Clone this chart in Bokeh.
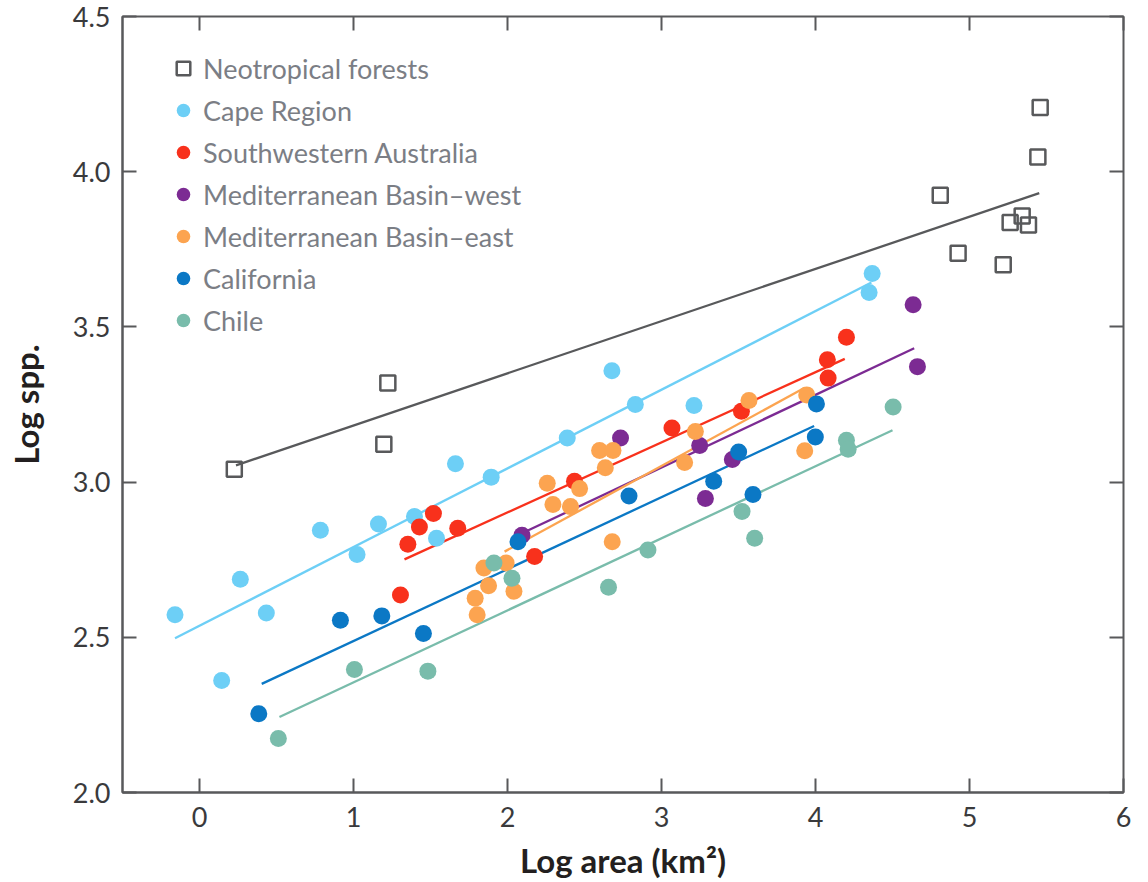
from bokeh.plotting import figure
from bokeh.models import (Legend, LegendItem, LinearAxis, Range1d, FixedTicker,
                          PrintfTickFormatter)
from bokeh.embed import file_html
from bokeh.resources import INLINE

# ---------------- data ----------------
neo_x = [0.226, 1.223, 1.197, 4.81, 4.926, 5.219, 5.264, 5.342, 5.383, 5.444, 5.459]
neo_y = [3.041, 3.319, 3.122, 3.924, 3.737, 3.700, 3.836, 3.857, 3.828, 4.047, 4.207]
neo_fit_x = [0.237, 5.453]
neo_fit_y = [3.054, 3.931]

cape_x = [-0.159, 0.144, 0.265, 0.434, 0.785, 1.023, 1.162, 1.396, 1.539, 1.662,
          1.894, 2.388, 2.678, 2.830, 3.211, 4.348, 4.368]
cape_y = [2.573, 2.361, 2.687, 2.578, 2.845, 2.767, 2.865, 2.889, 2.819, 3.059,
          3.016, 3.142, 3.359, 3.250, 3.247, 3.611, 3.672]
cape_fit_x = [-0.159, 4.363]
cape_fit_y = [2.497, 3.643]

swa_x = [1.305, 1.353, 1.428, 1.519, 1.677, 2.176, 2.435, 3.068, 3.519, 4.077, 4.082, 4.201]
swa_y = [2.636, 2.800, 2.855, 2.899, 2.851, 2.760, 3.003, 3.174, 3.228, 3.394, 3.335, 3.467]
swa_fit_x = [1.331, 4.190]
swa_fit_y = [2.751, 3.397]

mbw_x = [2.094, 2.734, 3.248, 3.285, 3.460, 4.634, 4.662]
mbw_y = [2.829, 3.142, 3.118, 2.947, 3.073, 3.571, 3.372]
mbw_fit_x = [2.094, 4.641]
mbw_fit_y = [2.835, 3.431]

mbe_x = [1.790, 1.803, 1.847, 1.877, 1.991, 2.042, 2.258, 2.295, 2.409, 2.468,
         2.598, 2.635, 2.685, 2.680, 3.150, 3.220, 3.568, 3.930, 3.943]
mbe_y = [2.626, 2.573, 2.723, 2.666, 2.739, 2.648, 2.996, 2.928, 2.921, 2.979,
         3.102, 3.046, 3.102, 2.808, 3.063, 3.163, 3.263, 3.101, 3.281]
mbe_fit_x = [1.981, 3.930]
mbe_fit_y = [2.776, 3.304]

cal_x = [0.385, 0.915, 1.184, 1.454, 2.068, 2.789, 3.339, 3.501, 3.594, 3.999, 4.006]
cal_y = [2.254, 2.555, 2.569, 2.512, 2.808, 2.955, 3.003, 3.097, 2.960, 3.145, 3.252]
cal_fit_x = [0.404, 3.991]
cal_fit_y = [2.350, 3.181]

chi_x = [0.512, 1.006, 1.483, 1.912, 2.029, 2.656, 2.912, 3.523, 3.605, 4.201, 4.212, 4.504]
chi_y = [2.174, 2.396, 2.391, 2.739, 2.690, 2.661, 2.781, 2.905, 2.819, 3.135, 3.106, 3.242]
chi_fit_x = [0.519, 4.500]
chi_fit_y = [2.243, 3.167]

x_ticks = [0, 1, 2, 3, 4, 5, 6]
y_ticks = [2.0, 2.5, 3.0, 3.5, 4.0, 4.5]

labels = ["Neotropical forests", "Cape Region", "Southwestern Australia",
          "Mediterranean Basin\u2013west", "Mediterranean Basin\u2013east",
          "California", "Chile"]
colors = ["#58595b", "#6dcff6", "#f8311c", "#7c2b93", "#fca450", "#0b78c5", "#79bcab"]

# ---------------- figure ----------------
FONT = "Lato"
AX = "#58595b"

p = figure(width=1148, height=882, x_range=Range1d(-0.5, 6), y_range=Range1d(2, 4.5),
           output_backend="svg", toolbar_location=None,
           min_border_left=122, min_border_right=25, min_border_top=16,
           min_border_bottom=87, background_fill_color="white",
           border_fill_color="white")
p.grid.visible = False
p.outline_line_color = AX
p.outline_line_width = 2

for ax in (p.xaxis[0], p.yaxis[0]):
    ax.major_tick_in = 14
    ax.major_tick_out = 0
    ax.minor_tick_line_color = None
    ax.axis_line_color = AX
    ax.axis_line_width = 2
    ax.major_tick_line_color = AX
    ax.major_tick_line_width = 2
    ax.major_label_text_font = FONT
    ax.major_label_text_font_size = "27px"
    ax.major_label_text_color = "#3a3a3c"
    ax.axis_label_text_font = FONT
    ax.axis_label_text_font_style = "bold"
    ax.axis_label_text_font_size = "33px"
    ax.axis_label_text_color = "#231f20"

p.xaxis.ticker = FixedTicker(ticks=x_ticks)
p.yaxis.ticker = FixedTicker(ticks=y_ticks)
p.yaxis.formatter = PrintfTickFormatter(format="%.1f")
p.xaxis.axis_label = "Log area (km\u00b2)"
p.yaxis.axis_label = "Log spp."
p.xaxis.major_label_standoff = 14
p.xaxis.axis_label_standoff = 10
p.yaxis.major_label_standoff = 12
p.yaxis.axis_label_standoff = 24

# mirrored inward ticks on top and right (no labels)
top = LinearAxis(ticker=FixedTicker(ticks=x_ticks), major_tick_in=14, major_tick_out=0,
                 minor_tick_line_color=None, axis_line_color=None,
                 major_tick_line_color=AX, major_tick_line_width=2,
                 major_label_text_color=None, major_label_text_font_size="0px",
                 major_label_standoff=0)
right = LinearAxis(ticker=FixedTicker(ticks=y_ticks), major_tick_in=14, major_tick_out=0,
                   minor_tick_line_color=None, axis_line_color=None,
                   major_tick_line_color=AX, major_tick_line_width=2,
                   major_label_text_color=None, major_label_text_font_size="0px",
                   major_label_standoff=0)
p.add_layout(top, "above")
p.add_layout(right, "right")

# ---------------- fit lines ----------------
fits = [(neo_fit_x, neo_fit_y), (cape_fit_x, cape_fit_y), (swa_fit_x, swa_fit_y),
        (mbw_fit_x, mbw_fit_y), (mbe_fit_x, mbe_fit_y), (cal_fit_x, cal_fit_y),
        (chi_fit_x, chi_fit_y)]
for (fx, fy), c in zip(fits, colors):
    p.line(fx, fy, line_color=c, line_width=2.3)

# ---------------- points ----------------
renderers = []
r = p.scatter(neo_x, neo_y, marker="square", size=15, fill_color=None,
              line_color=colors[0], line_width=2.5)
renderers.append(r)
series = [(cape_x, cape_y), (swa_x, swa_y), (mbw_x, mbw_y), (mbe_x, mbe_y),
          (cal_x, cal_y), (chi_x, chi_y)]
for (sx, sy), c in zip(series, colors[1:]):
    r = p.scatter(sx, sy, marker="circle", size=17, fill_color=c, line_color=None)
    renderers.append(r)

legend = Legend(items=[LegendItem(label=l, renderers=[r]) for l, r in zip(labels, renderers)],
                location=(44, 455), glyph_width=34, glyph_height=34, spacing=8,
                padding=0, margin=0, label_standoff=3,
                label_text_font=FONT, label_text_font_size="27px",
                label_text_color="#7b7e85", border_line_color=None,
                background_fill_alpha=0)
p.add_layout(legend)

open("out.html", "w").write(file_html(p, INLINE))
